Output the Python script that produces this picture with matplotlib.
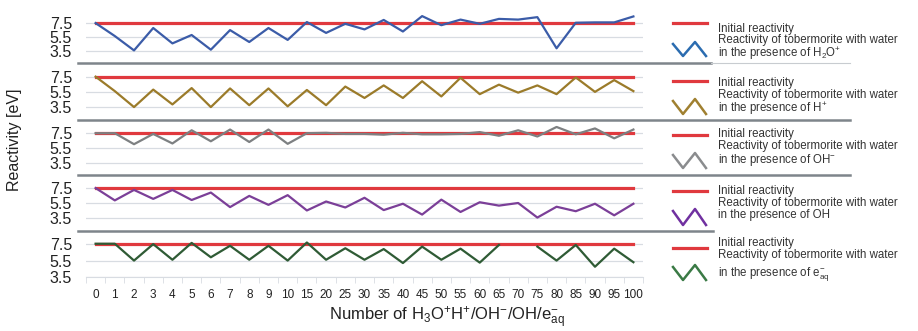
import numpy as np
import matplotlib
matplotlib.use("Agg")
import matplotlib.pyplot as plt
from matplotlib.lines import Line2D

plt.rcParams['font.family'] = ['Liberation Sans', 'DejaVu Sans']
plt.rcParams['mathtext.fontset'] = 'custom'
plt.rcParams['mathtext.rm'] = 'Liberation Sans'
plt.rcParams['mathtext.it'] = 'Liberation Sans:italic'

# categories on the x axis
numbers = ['0', '1', '2', '3', '4', '5', '6', '7', '8', '9', '10', '15', '20', '25', '30',
           '35', '40', '45', '50', '55', '60', '65', '70', '75', '80', '85', '90', '95', '100']

initial = 7.5  # initial reactivity [eV]

h3o = [7.5, 5.65, 3.6, 6.8, 4.6, 5.8, 3.7, 6.5, 4.8, 6.8, 5.1, 7.65, 6.1, 7.4, 6.6,
       7.95, 6.3, 8.5, 7.2, 8.0, 7.4, 8.1, 8.0, 8.35, 3.9, 7.55, 7.6, 7.6, 8.45]
hplus = [7.5, 5.6, 3.5, 5.8, 3.85, 6.0, 3.5, 5.95, 3.75, 5.95, 3.6, 5.75, 3.75, 6.2, 4.7,
         6.35, 4.7, 6.9, 4.9, 7.35, 5.2, 6.45, 5.4, 6.35, 5.2, 7.4, 5.5, 7.05, 5.6]
ohminus = [7.5, 7.5, 6.0, 7.4, 6.1, 7.9, 6.4, 8.0, 6.3, 8.0, 6.05, 7.5, 7.55, 7.4, 7.4,
           7.3, 7.55, 7.35, 7.35, 7.4, 7.65, 7.15, 7.9, 7.05, 8.35, 7.35, 8.15, 6.8, 8.0]
oh = [7.55, 5.9, 7.3, 6.1, 7.3, 5.95, 6.95, 5.0, 6.5, 5.3, 6.6, 4.55, 5.75, 4.95, 6.25,
      4.6, 5.45, 4.0, 6.0, 4.35, 5.65, 5.2, 5.55, 3.6, 5.05, 4.45, 5.45, 3.9, 5.45]
eaq = [7.55, 7.55, 5.5, 7.5, 5.6, 7.65, 5.9, 7.3, 5.6, 7.3, 5.5, 7.7, 5.6, 7.0, 5.6,
       6.9, 5.2, 7.2, 5.6, 6.95, 5.25, 7.4, np.nan, 7.2, 5.5, 7.4, 4.75, 6.95, 5.3]

series = [h3o, hplus, ohminus, oh, eaq]
colors = ['#3b5ca8', '#9b7b2a', '#7d8082', '#7b3f98', '#2f5b35']
icon_colors = ['#2b6cb0', '#a08030', '#8a8c8e', '#7030a0', '#3a7a45']
species = [r'H$_2$O$^{+}$', r'H$^{+}$', r'OH$^{-}$', 'OH', r'e$^{-}_{\mathrm{aq}}$']

W, H = 918, 331
fig = plt.figure(figsize=(W / 100, H / 100), dpi=100)


def fx(px):
    return px / W


def fy(py):
    return 1 - py / H


# panel placement in pixels: (top, bottom, ylim)
panels = [(7, 63, (1.8, 9.8)),
          (63, 120, (1.8, 9.3)),
          (120, 175, (1.8, 9.3)),
          (175, 231, (1.8, 9.3)),
          (231, 277, (3.5, 9.1))]

x = np.arange(len(numbers))
left, right = 86, 643
red = '#e0393e'
grid_col = '#d8dce2'
sep_col = '#7e858b'

for i, (top, bot, ylim) in enumerate(panels):
    ax = fig.add_axes([fx(left), fy(bot), fx(right - left), (bot - top) / H])
    ax.set_xlim(-0.5, len(numbers) - 0.5)
    ax.set_ylim(*ylim)
    for g in [3.5, 5.5, 7.5]:
        ax.axhline(g, color=grid_col, lw=0.9, zorder=1)
    ax.plot(x, [initial] * len(x), color=red, lw=2.3, zorder=2)
    ax.plot(x, series[i], color=colors[i], lw=1.6, zorder=3)
    ax.set_yticks([3.5, 5.5, 7.5])
    ax.set_yticklabels(['3.5', '5.5', '7.5'])
    ax.tick_params(axis='y', length=0, pad=10, labelsize=11.5, labelcolor='#222222')
    for s in ['top', 'left', 'right']:
        ax.spines[s].set_visible(False)
    if i < 4:
        ax.spines['bottom'].set_visible(False)
        ax.set_xticks([])
    else:
        ax.spines['bottom'].set_color(grid_col)
        ax.set_xticks(x)
        ax.set_xticklabels(numbers)
        ax.set_xticks(np.arange(-0.5, len(numbers)), minor=True)
        ax.tick_params(axis='x', which='major', length=0, pad=9, labelsize=8.5,
                       labelcolor='#222222')
        ax.tick_params(axis='x', which='minor', length=4, color=grid_col)

    # legend block on the right
    ry = [23, 81, 135, 191, 248][i]
    iy = [(42, 56), (99, 114), (153, 168), (209, 225), (265, 280)][i]
    fig.add_artist(Line2D([fx(673), fx(707)], [fy(ry), fy(ry)], color=red, lw=2.3))
    zx = [673, 683, 695, 706]
    zy = [iy[0] + 2, iy[1], iy[0], iy[1]]
    fig.add_artist(Line2D([fx(v) for v in zx], [fy(v) for v in zy],
                          color=icon_colors[i], lw=1.8))
    ty = [(29, 40, 54), (83, 95, 109), (134, 146, 160), (191, 203, 215), (243, 255, 275)][i]
    lines = ['Initial reactivity', 'Reactivity of tobermorite with water',
             'in the presence of ' + species[i]]
    for t, yy in zip(lines, ty):
        fig.text(fx(718), fy(yy), t, fontsize=8.3, color='#333333', va='center', ha='left')

# separators between panels
seps = [(63, 78, 711), (120, 78, 850), (175, 78, 850), (231, 78, 713)]
for yy, x0, x1 in seps:
    fig.add_artist(Line2D([fx(x0), fx(x1)], [fy(yy), fy(yy)], color=sep_col, lw=1.8))
fig.add_artist(Line2D([fx(711), fx(850)], [fy(63), fy(63)], color='#c8ccd0', lw=0.8))

fig.text(fx(15), fy(140), 'Reactivity [eV]', rotation=90, fontsize=11.5,
         color='#222222', ha='center', va='center')
fig.text(fx(447), fy(318),
         r'Number of H$_3$O$^{+}$H$^{+}$/OH$^{-}$/OH/e$^{-}_{\mathrm{aq}}$',
         fontsize=12, color='#222222', ha='center', va='center')

fig.savefig('out.png', dpi=100, facecolor='white')
